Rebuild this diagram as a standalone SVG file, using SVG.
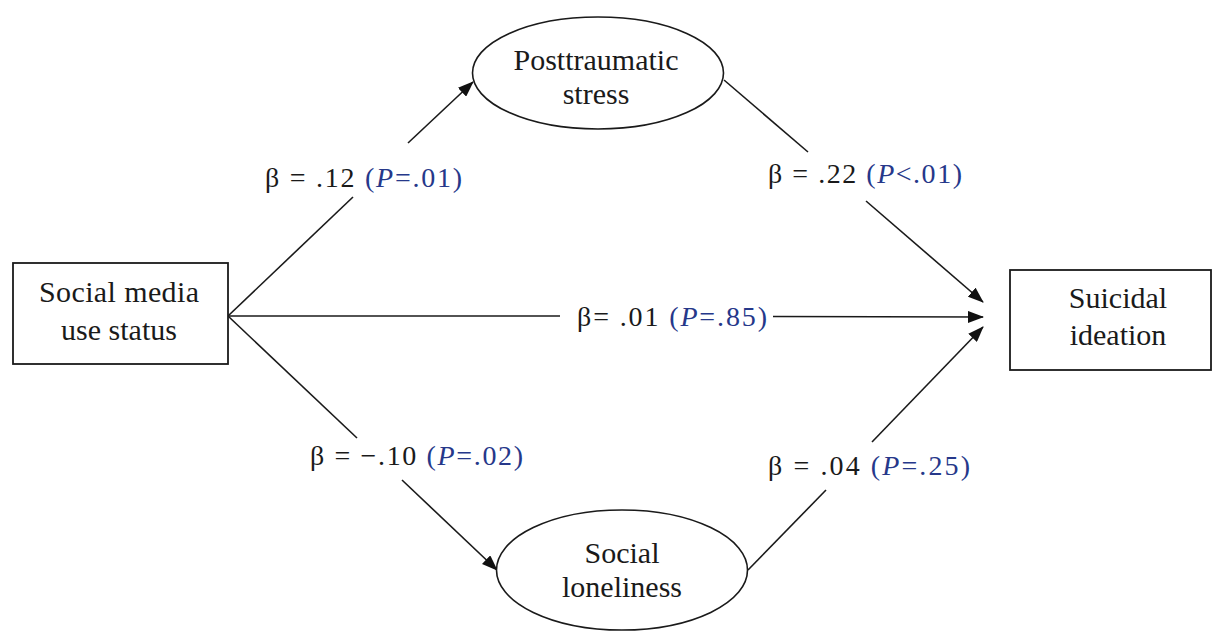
<svg xmlns="http://www.w3.org/2000/svg" width="1213" height="632" viewBox="0 0 1213 632">
<style>
.node{fill:#fff;stroke:#1a1a1a;stroke-width:1.8}
.ell{fill:#fff;stroke:#1a1a1a;stroke-width:1.6}
.nt{font-family:'Liberation Serif','DejaVu Serif',serif;font-size:30px;fill:#1a1a1a;text-anchor:middle}
.lbl{font-family:'Liberation Serif','DejaVu Serif',serif;font-size:28px;fill:#1a1a1a}
.p{fill:#26388a}
.conn{fill:none;stroke:#1a1a1a;stroke-width:1.6}
</style>
<defs>
<marker id="arr" markerUnits="userSpaceOnUse" markerWidth="16" markerHeight="12" refX="15" refY="6" orient="auto">
<path d="M0,0 L16,6 L0,12 Z" fill="#111"/>
</marker>
</defs>
<rect width="1213" height="632" fill="#fff"/>
<g id="connectors">
<path class="conn" d="M228,316 L353,197"/>
<path class="conn" d="M408,143 L473,82" marker-end="url(#arr)"/>
<path class="conn" d="M724,80 L808,152"/>
<path class="conn" d="M866,201 L983,302" marker-end="url(#arr)"/>
<path class="conn" d="M228,316 L560,316"/>
<path class="conn" d="M773,316.5 L983,317" marker-end="url(#arr)"/>
<path class="conn" d="M228,316 L357,438"/>
<path class="conn" d="M402,480 L497,570" marker-end="url(#arr)"/>
<path class="conn" d="M748,570 L826,490"/>
<path class="conn" d="M872,442 L983,327" marker-end="url(#arr)"/>
</g>
<g id="node-social-media">
<rect class="node" x="13" y="263" width="215" height="101"/>
<text class="nt" x="119" y="302" textLength="160" lengthAdjust="spacing">Social media</text>
<text class="nt" x="119" y="340">use status</text>
</g>
<g id="node-posttraumatic">
<ellipse class="ell" cx="598" cy="73" rx="125.5" ry="56"/>
<text class="nt" x="596" y="70">Posttraumatic</text>
<text class="nt" x="596" y="104">stress</text>
</g>
<g id="node-loneliness">
<ellipse class="ell" cx="622" cy="570" rx="125.5" ry="60"/>
<text class="nt" x="622" y="563">Social</text>
<text class="nt" x="622" y="597">loneliness</text>
</g>
<g id="node-suicidal">
<rect class="node" x="1010" y="270" width="201" height="100"/>
<text class="nt" x="1118" y="308">Suicidal</text>
<text class="nt" x="1118" y="345">ideation</text>
</g>
<g id="labels">
<text class="lbl" x="265" y="187" textLength="197" lengthAdjust="spacing">β = .12  <tspan class="p">(<tspan font-style="italic">P</tspan>=.01)</tspan></text>
<text class="lbl" x="768" y="183" textLength="194" lengthAdjust="spacing">β = .22 <tspan class="p">(<tspan font-style="italic">P</tspan>&lt;.01)</tspan></text>
<text class="lbl" x="577" y="326" textLength="190" lengthAdjust="spacing">β= .01 <tspan class="p">(<tspan font-style="italic">P</tspan>=.85)</tspan></text>
<text class="lbl" x="310" y="465" textLength="213" lengthAdjust="spacing">β = −.10  <tspan class="p">(<tspan font-style="italic">P</tspan>=.02)</tspan></text>
<text class="lbl" x="768" y="475" textLength="202" lengthAdjust="spacing">β = .04  <tspan class="p">(<tspan font-style="italic">P</tspan>=.25)</tspan></text>
</g>
</svg>
